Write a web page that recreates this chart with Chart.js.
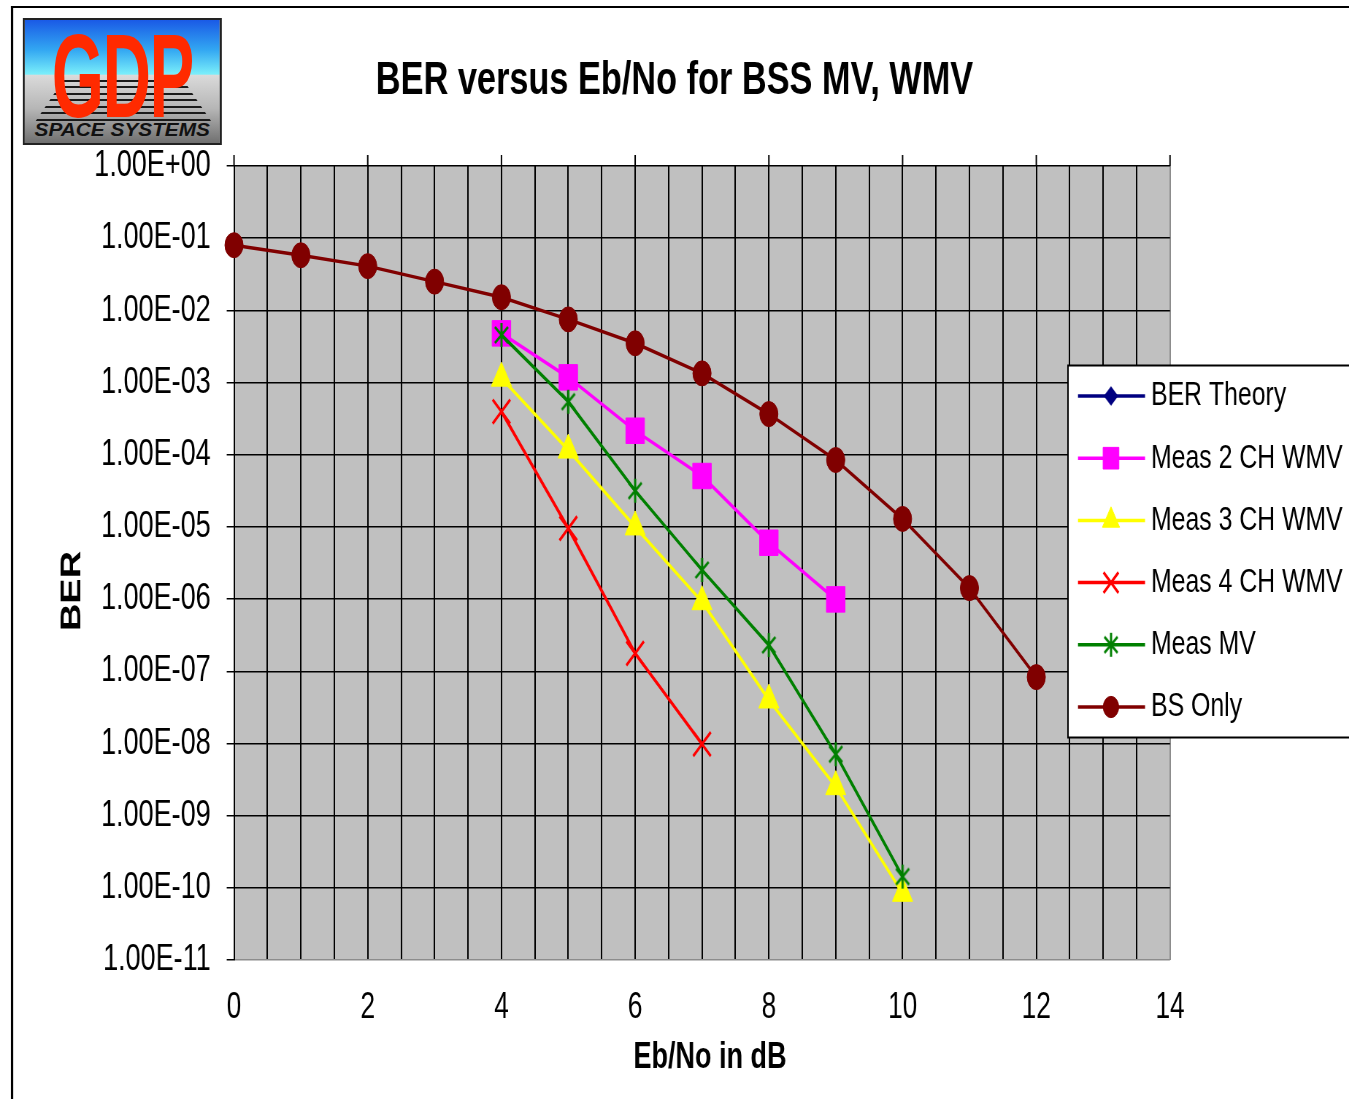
<!DOCTYPE html>
<html>
<head>
<meta charset="utf-8">
<title>BER versus Eb/No for BSS MV, WMV</title>
<script src="https://cdn.jsdelivr.net/npm/chart.js@4.4.1/dist/chart.umd.min.js"></script>
<style>
  html, body { margin: 0; padding: 0; background: #fff; }
  body { width: 1349px; height: 1099px; position: relative; overflow: hidden; }
  /* az egész oldal vízszintesen összenyomva, mint az eredeti képen */
  #page { position: absolute; left: 0; top: 0; width: 1848px; height: 1099px; transform-origin: 0 0; }
  #frame { position: absolute; left: 15px; top: 6px; width: 2000px; height: 1200px;
           border-top: 2px solid #000; border-left: 3px solid #000; box-sizing: border-box; }
  #chart { position: absolute; left: 0; top: 0; }
  #logo {
    position: absolute; left: 31px; top: 18px; width: 273px; height: 127px;
    border: 2px solid #222; border-left-width: 3px; border-right-width: 3px; box-sizing: border-box; overflow: hidden;
    background: linear-gradient(to bottom, #1a5ae6 0%, #32a6f2 24%, #7aeefa 44%, #dadada 45%, #b6b6b6 72%, #707070 100%);
  }
  #logo .stripes {
    position: absolute; left: 14px; top: 60px; width: 242px; height: 42px;
    background: repeating-linear-gradient(to bottom, #1a1a1a 0 2px, transparent 2px 6.5px);
    clip-path: polygon(16% 0, 84% 0, 100% 100%, 0 100%);
  }
  #logo .gdp {
    position: absolute; left: 0; width: 267px; top: -4px; text-align: center;
    font-family: "Liberation Sans", Arial, sans-serif; font-weight: bold;
    font-size: 92px; line-height: 92px; color: #ff2a00; letter-spacing: -2px;
    transform: scaleY(1.3); transform-origin: 50% 0;
  }
  #logo .space {
    position: absolute; left: 0; width: 267px; top: 100px; text-align: center;
    font-family: "Liberation Sans", Arial, sans-serif; font-weight: bold; font-style: italic;
    font-size: 19px; line-height: 20px; color: #111;
    transform: scaleX(1.5); transform-origin: 50% 0;
  }
</style>
</head>
<body>
<div id="page">
  <div id="frame"></div>
  <canvas id="chart"></canvas>
  <div id="logo">
    <div class="stripes"></div>
    <div class="gdp">GDP</div>
    <div class="space">SPACE SYSTEMS</div>
  </div>
</div>
<script>
// Adatok (Eb/No dB -> BER)
const ebNoTheory = [];
const berTheory = [];
const ebNo2ch = [4, 5, 6, 7, 8, 9];
const meas2ch = [4.8e-3, 1.18e-3, 2.15e-4, 5.07e-5, 6.04e-6, 9.9e-7];
const ebNo3ch = [4, 5, 6, 7, 8, 9, 10];
const meas3ch = [1.15e-3, 1.16e-4, 1.0e-5, 9.2e-7, 4.0e-8, 2.52e-9, 8.4e-11];
const ebNo4ch = [4, 5, 6, 7];
const meas4ch = [3.95e-4, 9.55e-6, 1.77e-7, 9.8e-9];
const ebNoMV = [4, 5, 6, 7, 8, 9, 10];
const measMV = [4.56e-3, 5.43e-4, 3.17e-5, 2.53e-6, 2.31e-7, 7.1e-9, 1.43e-10];
const ebNoBS = [0, 1, 2, 3, 4, 5, 6, 7, 8, 9, 10, 11, 12];
const bsOnly = [0.080, 0.058, 0.041, 0.025, 0.0152, 0.0075, 0.0035, 0.00134, 3.66e-4, 8.45e-5, 1.29e-5, 1.42e-6, 8.3e-8];

const seriesNames = ['BER Theory', 'Meas 2 CH WMV', 'Meas 3 CH WMV', 'Meas 4 CH WMV', 'Meas MV', 'BS Only'];
const xTicks = [0, 2, 4, 6, 8, 10, 12, 14];
const yTicks = [1e-11, 1e-10, 1e-9, 1e-8, 1e-7, 1e-6, 1e-5, 1e-4, 1e-3, 1e-2, 1e-1, 1];
const yTickLabels = ['1.00E-11', '1.00E-10', '1.00E-09', '1.00E-08', '1.00E-07', '1.00E-06',
                     '1.00E-05', '1.00E-04', '1.00E-03', '1.00E-02', '1.00E-01', '1.00E+00'];

const FONT = '"Liberation Sans", Arial, sans-serif';
const K = 0.73;                       // vízszintes összenyomás
const W = Math.round(1349 / K);       // vászon szélessége összenyomás előtt
const sx = px => px / K;              // képernyő x -> vászon x

document.getElementById('page').style.transform = 'scaleX(' + K + ')';
const canvas = document.getElementById('chart');
canvas.width = W;
canvas.height = 1099;

// Excel-szerű csillag jelölő (X + függőleges vonal)
const starMark = (() => {
    const c = document.createElement('canvas');
    c.width = 24; c.height = 26;
    const g = c.getContext('2d');
    g.strokeStyle = '#008000'; g.lineWidth = 3;
    g.beginPath();
    g.moveTo(3, 5); g.lineTo(21, 21); g.moveTo(21, 5); g.lineTo(3, 21);
    g.moveTo(12, 1); g.lineTo(12, 25);
    g.stroke();
    return c;
})();

const toPoints = (xs, ys) => xs.map((x, i) => ({ x: x, y: ys[i] }));

const series = [
    { xs: ebNoTheory, ys: berTheory, color: '#000080', style: 'rectRot', r: 11, bw: 1 },
    { xs: ebNo2ch, ys: meas2ch, color: '#ff00ff', style: 'rect', r: 18, bw: 1 },
    { xs: ebNo3ch, ys: meas3ch, color: '#ffff00', style: 'triangle', r: 16, bw: 1 },
    { xs: ebNo4ch, ys: meas4ch, color: '#ff0000', style: 'crossRot', r: 17, bw: 3 },
    { xs: ebNoMV, ys: measMV, color: '#008000', style: starMark, r: 12, bw: 1 },
    { xs: ebNoBS, ys: bsOnly, color: '#800000', style: 'circle', r: 12.5, bw: 1 }
];

const datasets = series.map((s, i) => ({
    label: seriesNames[i],
    data: toPoints(s.xs, s.ys),
    borderColor: s.color,
    backgroundColor: s.color,
    borderWidth: 3.5,
    pointStyle: s.style,
    pointRadius: s.r,
    pointBorderWidth: s.bw,
    tension: 0,
    clip: false,
    order: series.length - i
}));

// Háttér, felső osztások, tengelycímek, jelmagyarázat
const decor = {
    id: 'decor',
    beforeDraw(chart) {
        const { ctx, chartArea: a } = chart;
        ctx.save();
        ctx.fillStyle = '#c0c0c0';
        ctx.fillRect(a.left, a.top, a.right - a.left, a.bottom - a.top);
        ctx.restore();
    },
    afterDraw(chart) {
        const { ctx, chartArea: a, scales } = chart;
        ctx.save();
        ctx.strokeStyle = '#000';
        ctx.lineWidth = 2;
        xTicks.forEach(v => {
            const x = scales.x.getPixelForValue(v);
            ctx.beginPath(); ctx.moveTo(x, a.top - 11); ctx.lineTo(x, a.top); ctx.stroke();
        });

        ctx.fillStyle = '#000';
        ctx.textAlign = 'center';
        ctx.textBaseline = 'middle';
        ctx.font = 'bold 37px ' + FONT;
        ctx.fillText('Eb/No in dB', sx(710), 1058);

        ctx.translate(sx(73), 591);
        ctx.rotate(-Math.PI / 2);
        ctx.font = 'bold 38px ' + FONT;
        ctx.fillText('BER', 0, 0);
        ctx.restore();

        // Jelmagyarázat
        ctx.save();
        ctx.fillStyle = '#fff';
        ctx.fillRect(sx(1068), 365, 500, 372);
        ctx.strokeStyle = '#000';
        ctx.lineWidth = 2;
        ctx.strokeRect(sx(1068), 365.5, 500, 372);
        chart.data.datasets.forEach((ds, i) => {
            const y = 396 + i * 62.2;
            ctx.strokeStyle = ds.borderColor;
            ctx.fillStyle = ds.borderColor;
            ctx.lineWidth = 3.5;
            ctx.beginPath(); ctx.moveTo(sx(1078), y); ctx.lineTo(sx(1145), y); ctx.stroke();
            ctx.lineWidth = ds.pointBorderWidth;
            Chart.helpers.drawPoint(ctx, { pointStyle: ds.pointStyle, radius: ds.pointRadius * 0.85, rotation: 0, borderWidth: ds.pointBorderWidth }, sx(1111), y);
            ctx.fillStyle = '#000';
            ctx.font = '34px ' + FONT;
            ctx.textAlign = 'left';
            ctx.textBaseline = 'middle';
            ctx.fillText(ds.label, sx(1151), y);
        });
        ctx.restore();
    }
};

const myChart = new Chart(canvas.getContext('2d'), {
    type: 'line',
    data: { datasets: datasets },
    options: {
        responsive: false,
        animation: false,
        layout: { padding: 0 },
        plugins: {
            legend: { display: false },
            tooltip: { enabled: false },
            title: {
                display: true,
                text: 'BER versus Eb/No for BSS MV, WMV',
                color: '#000',
                font: { family: FONT, size: 47, weight: 'bold' },
                padding: { top: 53, bottom: 56.6 }
            }
        },
        scales: {
            x: {
                type: 'linear', min: 0, max: 14,
                ticks: {
                    stepSize: 0.5, autoSkip: false, maxRotation: 0, padding: 26, color: '#000',
                    font: { family: FONT, size: 36 },
                    callback: v => (xTicks.includes(v) ? String(v) : '')
                },
                grid: {
                    color: c => (c.tick && c.tick.value === 14 ? '#8c8c8c' : '#000'),
                    lineWidth: 2, drawTicks: false
                },
                border: { display: false },
                afterFit: s => { s.height = 139; }
            },
            y: {
                type: 'logarithmic', min: 1e-11, max: 1,
                afterBuildTicks: s => { s.ticks = yTicks.map(v => ({ value: v })); },
                ticks: {
                    autoSkip: false, padding: 22, color: '#000',
                    font: { family: FONT, size: 37 },
                    callback: (v, i) => yTickLabels[i]
                },
                grid: {
                    color: c => (c.tick && c.tick.value === 1e-11 ? '#8c8c8c' : '#000'),
                    tickColor: '#000', tickLength: 10, lineWidth: 1.5
                },
                border: { display: true, color: '#000', width: 2 },
                afterFit: s => { s.width = sx(234); }
            },
            yR: {
                type: 'linear', position: 'right', display: true,
                grid: { display: false }, ticks: { display: false }, border: { display: false },
                afterFit: s => { s.width = W - sx(1170); }
            }
        }
    },
    plugins: [decor]
});
</script>
</body>
</html>
